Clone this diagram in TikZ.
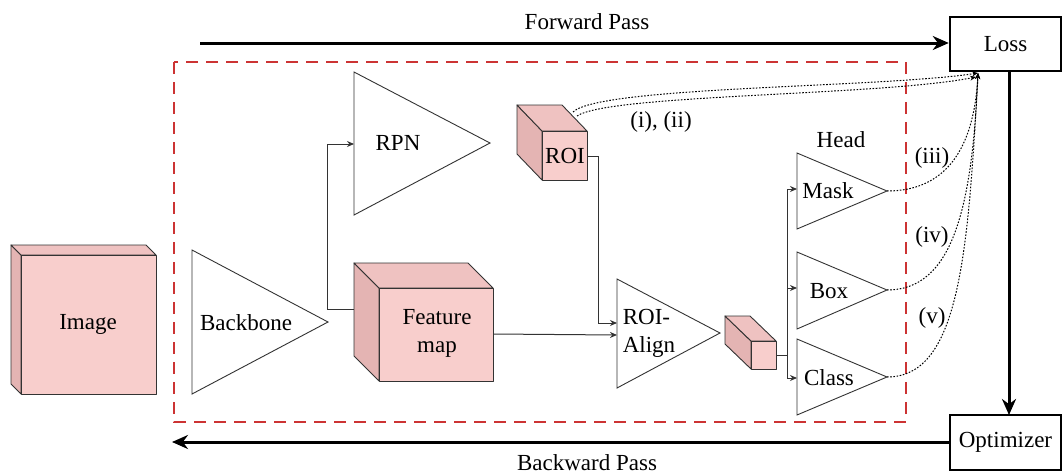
\documentclass[tikz,border=0pt]{standalone}
\usepackage{fontspec}
\setmainfont{Liberation Serif}
\newfontfamily\diagfont{Liberation Serif}
\usetikzlibrary{arrows.meta}
\definecolor{cubefront}{HTML}{F8CECC}
\definecolor{cubetop}{HTML}{EFC2C1}
\definecolor{cubeside}{HTML}{E4B4B3}
\definecolor{dashred}{HTML}{CC3333}
\definecolor{edgegray}{HTML}{333333}
\newcommand\drawcube[6]{%
  \filldraw[fill=cubeside,draw=edgegray,line width=0.9pt,line join=round] (#1,#2) -- ({#1-#5},{#2-#6}) -- ({#1-#5},{#2+#4-#6}) -- (#1,{#2+#4}) -- cycle;
  \filldraw[fill=cubetop,draw=edgegray,line width=0.9pt,line join=round] (#1,#2) -- ({#1-#5},{#2-#6}) -- ({#1+#3-#5},{#2-#6}) -- ({#1+#3},#2) -- cycle;
  \filldraw[fill=cubefront,draw=edgegray,line width=0.9pt,line join=round] (#1,#2) rectangle ({#1+#3},{#2+#4});
}
\tikzset{
  lbl/.style={font=\diagfont\fontsize{23}{25}\selectfont, inner sep=0pt},
  tri/.style={draw=edgegray, line width=0.9pt, fill=white, line join=miter},
  thin/.style={draw=edgegray, line width=1pt},
  thinarrow/.style={thin, -{Stealth[length=7pt,width=6pt]}},
  thickarrow/.style={line width=3pt, -{Stealth[length=16pt,width=14pt]}},
  dotcurve/.style={line width=1pt, dash pattern=on 1.6pt off 1.6pt, -{Stealth[length=6pt,width=5pt]}},
  boxnode/.style={draw, line width=2.5pt},
}
\begin{document}
\begin{tikzpicture}[x=1pt,y=-1pt]
\useasboundingbox (0,0) rectangle (1063,474);

% red dashed region
\draw[dashred, line width=2.2pt, dash pattern=on 12pt off 8pt] (174,62) rectangle (906,422);

% Image cube
\drawcube{21}{255}{135}{139}{10}{10}
\node[lbl] (image) at (88,324) {Image};

% Backbone
\draw[tri] (192,250) -- (328,322) -- (192,394) -- cycle;
\node[lbl] (backbone) at (246,323) {Backbone};

% RPN
\draw[tri] (354,72) -- (490,143) -- (354,215) -- cycle;
\node[lbl] (rpn) at (398,143) {RPN};
\coordinate (rpnin) at (354,144);

% Feature map cube
\drawcube{379}{288}{114}{93}{25}{25}
\node[lbl, align=center] (feat) at (437,333) {Feature\\[3pt]map};
\coordinate (featleft) at (354,309);
\coordinate (featright) at (493,334);

% ROI cube
\drawcube{542}{131}{45}{49}{25}{26}
\node[lbl] (roi) at (565,156) {ROI};
\coordinate (roiright) at (587,156);
\coordinate (roicorner) at (573,112);
\coordinate (roicornerb) at (577,116);

% ROI-Align
\draw[tri] (617,279) -- (720,333) -- (617,388) -- cycle;
\node[lbl, align=left] (roialign) at (649,333) {ROI-\\[3pt]Align};
\coordinate (alignin1) at (617,323);
\coordinate (alignin2) at (617,335);

% small cube
\drawcube{751}{341}{25}{28}{26}{25}
\coordinate (smallright) at (776,355);
\coordinate (split) at (787,355);

% Heads
\node[lbl] (headlbl) at (841,140) {Head};
\draw[tri] (797,153) -- (887,191) -- (797,229) -- cycle;
\node[lbl] (mask) at (828,191) {Mask};
\draw[tri] (797,252) -- (887,290) -- (797,329) -- cycle;
\node[lbl] (box) at (829,291) {Box};
\draw[tri] (797,339) -- (887,377) -- (797,415) -- cycle;
\node[lbl] (class) at (829,378) {Class};
\coordinate (maskin) at (797,189);
\coordinate (boxin) at (797,288);
\coordinate (classin) at (797,378);
\coordinate (maskout) at (887,191);
\coordinate (boxout) at (887,290);
\coordinate (classout) at (887,377);

% Loss and Optimizer
\node[boxnode, lbl, minimum width=111pt, minimum height=54pt] (loss) at (1005.5,44) {Loss};
\node[boxnode, lbl, minimum width=111pt, minimum height=55pt] (opt) at (1005.5,442.5) {Optimizer};
\coordinate (lossin) at (978,73);

% forward / backward
\coordinate (fwdstart) at (200,43);
\coordinate (bwdend) at (172,442);
\draw[thickarrow] (fwdstart) -- (loss.west |- fwdstart);
\node[lbl] (fwdlbl) at (587,22) {Forward Pass};
\draw[thickarrow] (opt.west |- bwdend) -- (bwdend);
\node[lbl] (bwdlbl) at (587,463) {Backward Pass};
\draw[thickarrow] (1009,71) -- (1009,415);

% thin connectors
\draw[thinarrow] (featleft) -- (327,309) -- (327,144) -- (rpnin);
\draw[thinarrow] (featright) -- (alignin2);
\draw[thinarrow] (roiright) -- (598,156) -- (598,323) -- (alignin1);
\draw[thin] (smallright) -- (split);
\draw[thin] (787,189) -- (787,378);
\draw[thinarrow] (787,189) -- (maskin);
\draw[thinarrow] (787,288) -- (boxin);
\draw[thinarrow] (787,378) -- (classin);

% dotted loss curves
\draw[dotcurve] (roicorner) .. controls (600,86) and (880,88) .. (lossin);
\draw[dotcurve] (roicornerb) .. controls (610,94) and (880,96) .. (976,77);
\draw[dotcurve] (maskout) .. controls (945,191) and (974,150) .. (lossin);
\draw[dotcurve] (boxout) .. controls (952,290) and (972,210) .. (lossin);
\draw[dotcurve] (classout) .. controls (958,377) and (968,260) .. (lossin);

% labels
\node[lbl] (l12) at (661,122) {(i), (ii)};
\node[lbl] (l3) at (932,158) {(iii)};
\node[lbl] (l4) at (932,237) {(iv)};
\node[lbl] (l5) at (932,318) {(v)};
\end{tikzpicture}
\end{document}
